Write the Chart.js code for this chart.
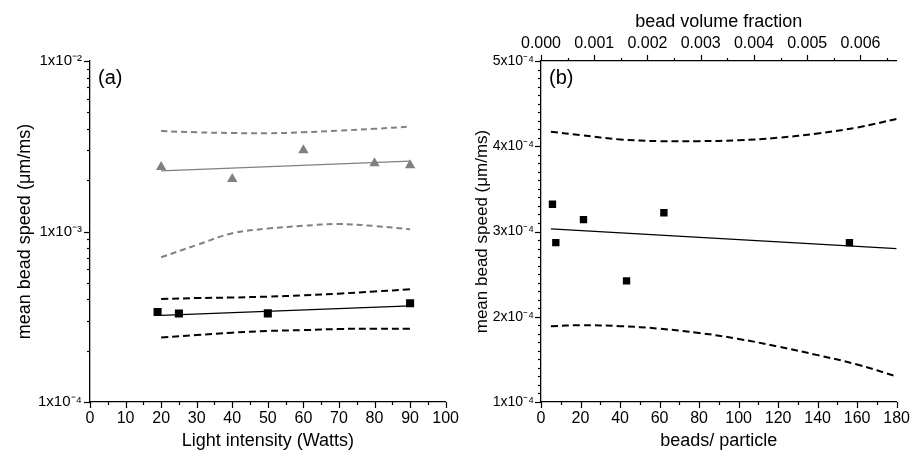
<!DOCTYPE html>
<html>
<head>
<meta charset="utf-8">
<script src="https://cdn.jsdelivr.net/npm/chart.js@4"></script>
<style>
  html, body { margin: 0; padding: 0; background: #fff; }
  #wrapA { position: absolute; left: 0; top: 0; width: 466px; height: 452px; }
  #wrapB { position: absolute; left: 466px; top: 0; width: 451px; height: 452px; }
</style>
</head>
<body>
<div id="wrapA"><canvas id="chartA"></canvas></div>
<div id="wrapB"><canvas id="chartB"></canvas></div>
<script>
// ---- panel (a): speed vs light intensity ----
const lightBlack = [19, 25, 50, 90];
const speedBlack = [3.37e-4, 3.30e-4, 3.31e-4, 3.79e-4];
const lightGray = [20, 40, 60, 80, 90];
const speedGray = [2.39e-3, 2.03e-3, 3.0e-3, 2.51e-3, 2.45e-3];
const fitLight = [20, 90];
const fitBlack = [3.22e-4, 3.66e-4];
const fitGray = [2.27e-3, 2.59e-3];
const bandLight = [20, 30, 40, 50, 60, 70, 80, 90];
const blackUpper = [4.02e-4, 4.07e-4, 4.10e-4, 4.15e-4, 4.22e-4, 4.32e-4, 4.45e-4, 4.58e-4];
const blackLower = [2.39e-4, 2.47e-4, 2.55e-4, 2.61e-4, 2.64e-4, 2.68e-4, 2.69e-4, 2.69e-4];
const grayUpper = [3.88e-3, 3.82e-3, 3.78e-3, 3.77e-3, 3.82e-3, 3.90e-3, 4.00e-3, 4.12e-3];
const grayLower = [7.06e-4, 8.33e-4, 9.76e-4, 1.04e-3, 1.08e-3, 1.106e-3, 1.077e-3, 1.03e-3];

// ---- panel (b): speed vs beads per particle ----
const beads = [5.8, 7.5, 21.5, 43.3, 62.2, 156.1];
const speedBeads = [3.32e-4, 2.87e-4, 3.14e-4, 2.42e-4, 3.22e-4, 2.87e-4];
const fitBeads = [5, 180];
const fitBeadSpeed = [3.03e-4, 2.80e-4];
const bandBeads = [5, 20, 40, 60, 80, 100, 120, 140, 160, 180];
const beadUpper = [4.17e-4, 4.13e-4, 4.08e-4, 4.06e-4, 4.06e-4, 4.07e-4, 4.10e-4, 4.15e-4, 4.22e-4, 4.32e-4];
const beadLower = [1.89e-4, 1.90e-4, 1.89e-4, 1.86e-4, 1.81e-4, 1.74e-4, 1.65e-4, 1.55e-4, 1.44e-4, 1.30e-4];

// ---- tick values / labels ----
const xTicksA = [0, 10, 20, 30, 40, 50, 60, 70, 80, 90, 100];
const yTicksA = [1e-4, 1e-3, 1e-2];
const yLabelsA = ['1x10⁻⁴', '1x10⁻³', '1x10⁻²'];
const xTicksB = [0, 20, 40, 60, 80, 100, 120, 140, 160, 180];
const yTicksB = [1e-4, 2e-4, 3e-4, 4e-4, 5e-4];
const yLabelsB = ['1x10⁻⁴', '2x10⁻⁴', '3x10⁻⁴', '4x10⁻⁴', '5x10⁻⁴'];
const fracTicks = [0, 0.001, 0.002, 0.003, 0.004, 0.005, 0.006];
const fracMax = 0.00668;

const FONT = "'Liberation Sans', Arial, sans-serif";
const GRAY = 'rgb(128,128,128)';

const pts = (xs, ys) => xs.map((x, i) => ({ x: x, y: ys[i] }));
const setTicks = vals => scale => { scale.ticks = vals.map(v => ({ value: v })); };

// minor ticks
const minorA_x = [];
for (let v = 5; v < 100; v += 10) minorA_x.push(v);
const minorA_y = [];
for (const d of [1e-4, 1e-3]) for (let k = 2; k <= 9; k++) minorA_y.push(k * d);
const minorB_x = [];
for (let v = 10; v < 180; v += 20) minorB_x.push(v);
const minorB_y = [];
for (let k = 10; k < 50; k++) if (k % 10) minorB_y.push(k * 1e-5);
const minorB_top = [];
for (let k = 1; k < 14; k += 2) minorB_top.push(k * 0.0005);

// plugin: draws outward tick marks (major + minor) and the panel letter
const axisTicks = {
  id: 'axisTicks',
  afterDraw(chart, args, opts) {
    const ctx = chart.ctx;
    ctx.save();
    ctx.strokeStyle = '#000';
    ctx.lineWidth = 1.2;
    for (const spec of opts.specs) {
      const s = chart.scales[spec.id];
      const draw = (v, len) => {
        const p = Math.round(s.getPixelForValue(v)) + 0.5;
        ctx.beginPath();
        if (spec.side === 'left') { ctx.moveTo(s.right, p); ctx.lineTo(s.right - len, p); }
        else if (spec.side === 'bottom') { ctx.moveTo(p, s.top); ctx.lineTo(p, s.top + len); }
        else { ctx.moveTo(p, s.bottom); ctx.lineTo(p, s.bottom - len); }
        ctx.stroke();
      };
      spec.major.forEach(v => draw(v, 6));
      spec.minor.forEach(v => draw(v, 3));
    }
    const a = chart.chartArea;
    ctx.fillStyle = '#000';
    ctx.font = '20px ' + FONT;
    ctx.textBaseline = 'middle';
    ctx.fillText(opts.letter, a.left + 8, a.top + 17);
    ctx.restore();
  }
};

const tickFont = size => ({ family: FONT, size: size });
const titleFont = size => ({ family: FONT, size: size });

new Chart(document.getElementById('chartA'), {
  type: 'scatter',
  data: {
    datasets: [
      { data: pts(bandLight, grayUpper), showLine: true, borderColor: GRAY, borderWidth: 2, borderDash: [6, 4], tension: 0.4, pointRadius: 0 },
      { data: pts(bandLight, grayLower), showLine: true, borderColor: GRAY, borderWidth: 2, borderDash: [6, 4], tension: 0.4, pointRadius: 0 },
      { data: pts(fitLight, fitGray), showLine: true, borderColor: GRAY, borderWidth: 1.3, pointRadius: 0 },
      { data: pts(lightGray, speedGray), pointStyle: 'triangle', pointRadius: 6, backgroundColor: GRAY, borderColor: GRAY, borderWidth: 0 },
      { data: pts(bandLight, blackUpper), showLine: true, borderColor: '#000', borderWidth: 2, borderDash: [7, 4], tension: 0.4, pointRadius: 0 },
      { data: pts(bandLight, blackLower), showLine: true, borderColor: '#000', borderWidth: 2, borderDash: [7, 4], tension: 0.4, pointRadius: 0 },
      { data: pts(fitLight, fitBlack), showLine: true, borderColor: '#000', borderWidth: 1.3, pointRadius: 0 },
      { data: pts(lightBlack, speedBlack), pointStyle: 'rect', pointRadius: 5.7, backgroundColor: '#000', borderColor: '#000', borderWidth: 0 }
    ]
  },
  options: {
    responsive: true,
    maintainAspectRatio: false,
    animation: false,
    layout: { padding: { left: 0, right: 16, top: 61, bottom: 0 } },
    plugins: {
      legend: { display: false },
      tooltip: { enabled: false },
      axisTicks: {
        letter: '(a)',
        specs: [
          { id: 'x', side: 'bottom', major: xTicksA, minor: minorA_x },
          { id: 'y', side: 'left', major: yTicksA, minor: minorA_y }
        ]
      }
    },
    scales: {
      x: {
        type: 'linear', min: 0, max: 100,
        afterBuildTicks: setTicks(xTicksA),
        afterFit: s => { s.height = 50; },
        grid: { display: false, drawTicks: false },
        border: { display: true, color: '#000', width: 1.3 },
        ticks: { color: '#000', font: tickFont(16), padding: 7, maxRotation: 0 },
        title: { display: true, text: 'Light intensity (Watts)', color: '#000', font: titleFont(18), padding: { top: 0, bottom: 0 } }
      },
      y: {
        type: 'logarithmic', min: 1e-4, max: 1e-2,
        afterBuildTicks: setTicks(yTicksA),
        afterFit: s => { s.width = 90; },
        grid: { display: false, drawTicks: false },
        border: { display: true, color: '#000', width: 1.3 },
        ticks: { color: '#000', font: tickFont(15), padding: 8, callback: v => yLabelsA[yTicksA.findIndex(t => Math.abs(t - v) < t * 1e-6)] },
        title: { display: true, text: 'mean bead speed (μm/ms)', color: '#000', font: titleFont(18), padding: { top: 14, bottom: 0 } }
      }
    }
  },
  plugins: [axisTicks]
});

new Chart(document.getElementById('chartB'), {
  type: 'scatter',
  data: {
    datasets: [
      { data: pts(bandBeads, beadUpper), showLine: true, borderColor: '#000', borderWidth: 2, borderDash: [7, 4], tension: 0.4, pointRadius: 0 },
      { data: pts(bandBeads, beadLower), showLine: true, borderColor: '#000', borderWidth: 2, borderDash: [7, 4], tension: 0.4, pointRadius: 0 },
      { data: pts(fitBeads, fitBeadSpeed), showLine: true, borderColor: '#000', borderWidth: 1.3, pointRadius: 0 },
      { data: pts(beads, speedBeads), pointStyle: 'rect', pointRadius: 5.2, backgroundColor: '#000', borderColor: '#000', borderWidth: 0 }
    ]
  },
  options: {
    responsive: true,
    maintainAspectRatio: false,
    animation: false,
    layout: { padding: { left: 0, right: 14, top: 0, bottom: 0 } },
    plugins: {
      legend: { display: false },
      tooltip: { enabled: false },
      axisTicks: {
        letter: '(b)',
        specs: [
          { id: 'x', side: 'bottom', major: xTicksB, minor: minorB_x },
          { id: 'x2', side: 'top', major: fracTicks, minor: minorB_top },
          { id: 'y', side: 'left', major: yTicksB, minor: minorB_y }
        ]
      }
    },
    scales: {
      x: {
        type: 'linear', position: 'bottom', min: 0, max: 180,
        afterBuildTicks: setTicks(xTicksB),
        afterFit: s => { s.height = 50; },
        grid: { display: false, drawTicks: false },
        border: { display: true, color: '#000', width: 1.3 },
        ticks: { color: '#000', font: tickFont(16), padding: 7, maxRotation: 0 },
        title: { display: true, text: 'beads/ particle', color: '#000', font: titleFont(18), padding: { top: 0, bottom: 0 } }
      },
      x2: {
        type: 'linear', position: 'top', min: 0, max: fracMax,
        afterBuildTicks: setTicks(fracTicks),
        afterFit: s => { s.height = 61; },
        grid: { display: false, drawTicks: false },
        border: { display: true, color: '#000', width: 1.3 },
        ticks: { color: '#000', font: tickFont(16), padding: 8, maxRotation: 0, callback: v => v.toFixed(3) },
        title: { display: true, text: 'bead volume fraction', color: '#000', font: titleFont(18), padding: { top: 11, bottom: 0 } }
      },
      y: {
        type: 'linear', min: 1e-4, max: 5e-4,
        afterBuildTicks: setTicks(yTicksB),
        afterFit: s => { s.width = 75; },
        grid: { display: false, drawTicks: false },
        border: { display: true, color: '#000', width: 1.3 },
        ticks: { color: '#000', font: tickFont(14), padding: 7, callback: v => yLabelsB[yTicksB.findIndex(t => Math.abs(t - v) < t * 1e-6)] },
        title: { display: true, text: 'mean bead speed (μm/ms)', color: '#000', font: titleFont(17), padding: { top: 6, bottom: 0 } }
      }
    }
  },
  plugins: [axisTicks]
});
</script>
</body>
</html>
